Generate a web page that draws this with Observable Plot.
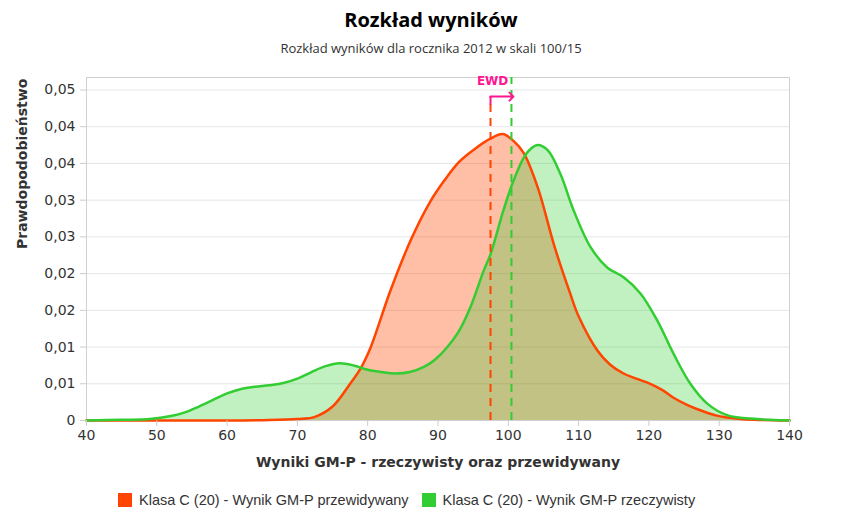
<!DOCTYPE html>
<html>
<head>
<meta charset="utf-8">
<script src="https://cdn.jsdelivr.net/npm/d3@7"></script>
<script src="https://cdn.jsdelivr.net/npm/@observablehq/plot@0.6"></script>
<style>
  html, body { margin: 0; padding: 0; background: #fff; }
  body { width: 862px; height: 528px; position: relative; overflow: hidden; }
  #title { position: absolute; top: 7px; left: 0; width: 862px; text-align: center;
    font-family: "Open Sans", sans-serif; font-weight: bold; font-size: 20px; line-height: 26px; color: #000; }
  #subtitle { position: absolute; top: 39px; left: 0; width: 862px; text-align: center;
    font-family: "Open Sans", sans-serif; font-size: 13px; line-height: 18px; color: #333; }
  #chart { position: absolute; top: 60px; left: 0; }
  #legend { position: absolute; top: 491px; left: 118px; display: flex; align-items: center;
    font-family: "Liberation Sans", Arial, sans-serif; font-size: 14.5px; line-height: 18px; color: #333; }
  .sw { width: 14px; height: 14px; display: inline-block; margin-right: 7px; }
  .item { display: flex; align-items: center; margin-right: 13px; }
</style>
</head>
<body>
<div id="title"></div>
<div id="subtitle"></div>
<div id="chart"></div>
<div id="legend"></div>
<script>
const titleText = "Rozkład wyników";
const subtitleText = "Rozkład wyników dla rocznika 2012 w skali 100/15";
const xTitle = "Wyniki GM-P - rzeczywisty oraz przewidywany";
const yTitle = "Prawdopodobieństwo";
const seriesNames = ["Klasa C (20) - Wynik GM-P przewidywany", "Klasa C (20) - Wynik GM-P rzeczywisty"];
const seriesColors = ["#ff4500", "#32cd32"];

const xTicks = [40, 50, 60, 70, 80, 90, 100, 110, 120, 130, 140];
const yTicks = [0, 0.005, 0.01, 0.015, 0.02, 0.025, 0.03, 0.035, 0.04, 0.045];
const yTickLabels = ["0", "0,01", "0,01", "0,02", "0,02", "0,03", "0,03", "0,04", "0,04", "0,05"];

// predicted (orange)
const predX = [40, 50, 60, 65, 70, 72.5, 75, 77.5, 79, 80.4, 83.2, 86.1, 88.9, 91, 93, 95, 97.5, 99.2, 100.7, 102.2, 104.2, 106.6, 108.8, 110, 112.7, 114.5, 116.4, 118.2, 120.2, 122, 123.5, 125.5, 127.3, 129.5, 131.2, 133, 135, 140];
const predY = [0, 0, 0, 0.00005, 0.0002, 0.0005, 0.0019, 0.005, 0.0071, 0.0099, 0.0176, 0.0245, 0.0298, 0.0328, 0.0352, 0.0368, 0.0384, 0.039, 0.0381, 0.0364, 0.0317, 0.0236, 0.0173, 0.0142, 0.0095, 0.0076, 0.0064, 0.0057, 0.005, 0.0041, 0.0031, 0.0021, 0.0014, 0.0007, 0.0004, 0.0002, 0.0001, 0];

// actual (green)
const realX = [40, 45, 49, 52, 54, 56, 58, 60, 62, 64, 66, 68, 70, 72, 74, 76, 78, 80, 82, 84, 86, 88, 89.6, 92.8, 94.6, 96.5, 97.5, 99.3, 100.6, 102.2, 103.2, 104.2, 105.6, 107.4, 109.3, 111.7, 114.1, 116.4, 118.8, 121.2, 123.5, 125.9, 128.3, 131.2, 135.4, 140];
const realY = [0, 0.0001, 0.0002, 0.0006, 0.0011, 0.0019, 0.0028, 0.0037, 0.0043, 0.0046, 0.0048, 0.0051, 0.0057, 0.0066, 0.0074, 0.0078, 0.0075, 0.0069, 0.0066, 0.0064, 0.0066, 0.0073, 0.0083, 0.0119, 0.0154, 0.0204, 0.0227, 0.0286, 0.0323, 0.0358, 0.0370, 0.0375, 0.0368, 0.0336, 0.0286, 0.0236, 0.0208, 0.0195, 0.0173, 0.0136, 0.0091, 0.005, 0.0023, 0.0007, 0.0002, 0];

// EWD markers
const ewdLabel = "EWD";
const ewdPred = 97.47;
const ewdReal = 100.45;
const ewdArrowY = 0.0441;
const ewdTickBottom = 0.0431;
const ewdLabelY = 0.0462;
const yMax = 0.0467;
const ewdColor = "#ff1493";

const pred = predX.map((x, i) => ({x, y: predY[i]}));
const real = realX.map((x, i) => ({x, y: realY[i]}));

document.getElementById("title").textContent = titleText;
document.getElementById("subtitle").textContent = subtitleText;

const curve = "catmull-rom";
const plot = Plot.plot({
  width: 862,
  height: 420,
  marginLeft: 86,
  marginRight: 73,
  marginTop: 17,
  marginBottom: 60,
  style: {fontFamily: "DejaVu Sans, sans-serif", fontSize: "14px", color: "#333", background: "#fff"},
  x: {domain: [40, 140]},
  y: {domain: [0, yMax]},
  marks: [
    Plot.gridY(yTicks, {stroke: "#e6e6e6", strokeOpacity: 1}),
    Plot.frame({stroke: "#d0d0d0"}),
    Plot.areaY(pred, {x: "x", y: "y", fill: seriesColors[0], fillOpacity: 0.35, curve}),
    Plot.areaY(real, {x: "x", y: "y", fill: seriesColors[1], fillOpacity: 0.3, curve}),
    Plot.line(pred, {x: "x", y: "y", stroke: seriesColors[0], strokeWidth: 2.5, curve}),
    Plot.line(real, {x: "x", y: "y", stroke: seriesColors[1], strokeWidth: 2.5, curve}),
    Plot.ruleX([ewdPred], {y1: 0, y2: ewdArrowY, stroke: seriesColors[0], strokeWidth: 2, strokeDasharray: "8,6"}),
    Plot.ruleX([ewdReal], {y1: 0, y2: yMax, stroke: seriesColors[1], strokeWidth: 2, strokeDasharray: "8,6"}),
    Plot.line([{x: ewdPred, y: ewdTickBottom}, {x: ewdPred, y: ewdArrowY}, {x: ewdReal, y: ewdArrowY}],
      {x: "x", y: "y", stroke: ewdColor, strokeWidth: 2, markerEnd: "arrow"}),
    Plot.text([ewdLabel], {x: ewdPred + 0.3, y: ewdLabelY, fill: ewdColor, fontWeight: "bold", fontSize: 12}),
    Plot.axisY(yTicks, {tickFormat: d => yTickLabels[yTicks.indexOf(d)], tickSize: 6, tickPadding: 5, stroke: "#ccc", fill: "#333", fontSize: 14, label: null}),
    Plot.axisX(xTicks, {tickSize: 6, tickPadding: 4, stroke: "#ccc", fill: "#333", fontSize: 14, label: null}),
    Plot.text([xTitle], {frameAnchor: "bottom", dy: 46, fontWeight: "bold", fontSize: 14, fill: "#333"}),
    Plot.text([yTitle], {frameAnchor: "left", dx: -64, rotate: -90, fontWeight: "bold", fontSize: 14, fill: "#333"})
  ]
});
document.getElementById("chart").appendChild(plot);

const legend = document.getElementById("legend");
seriesNames.forEach((name, i) => {
  const item = document.createElement("div");
  item.className = "item";
  const sw = document.createElement("span");
  sw.className = "sw";
  sw.style.background = seriesColors[i];
  const t = document.createElement("span");
  t.textContent = name;
  item.appendChild(sw);
  item.appendChild(t);
  legend.appendChild(item);
});
</script>
</body>
</html>
